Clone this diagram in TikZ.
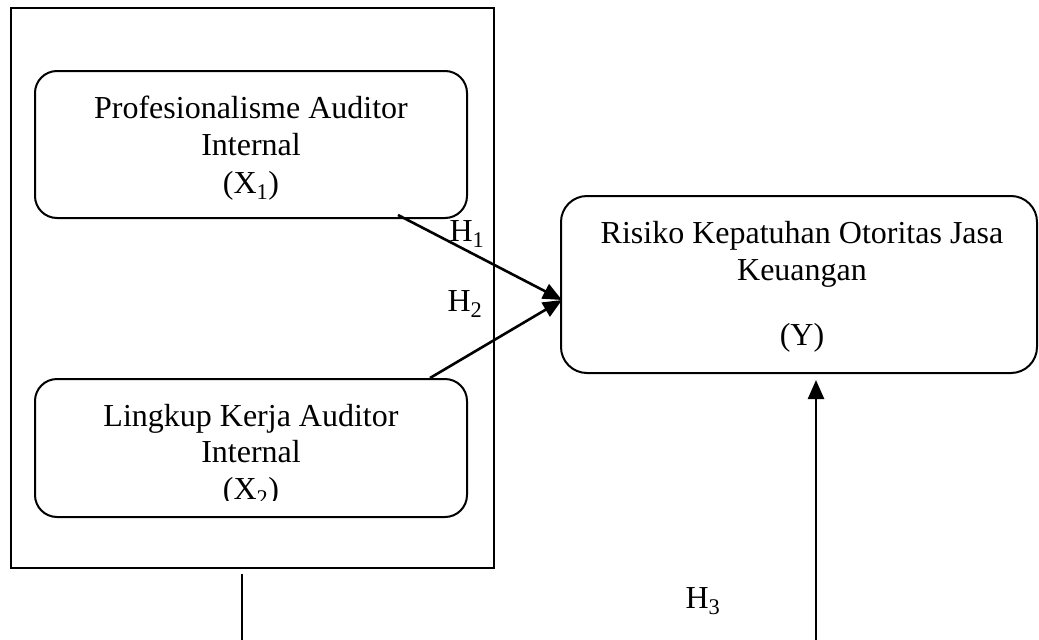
\documentclass[tikz,border=0pt]{standalone}
\usepackage{fontspec}
\setmainfont{Liberation Serif}
\usetikzlibrary{arrows.meta}
\begin{document}
\begin{tikzpicture}[x=1pt,y=-1pt,
  rbox/.style={draw,line width=2pt,rounded corners=22pt,inner sep=0pt},
  txt/.style={anchor=base,inner sep=0pt,font=\fontsize{32}{37}\selectfont},
  conn/.style={line width=2.6pt,-{Triangle[length=19pt,width=16pt]}},
  plain/.style={line width=2.4pt}]
\useasboundingbox (0,0) rectangle (1039,640);
% outer frame
\node[draw,line width=1.6pt,inner sep=0pt,minimum width=483pt,minimum height=560pt] (frame) at (252.5,288) {};
% boxes
\node[rbox,minimum width=432pt,minimum height=147pt] (x1) at (251,144.5) {};
\node[rbox,minimum width=432pt,minimum height=138pt] (x2) at (251,448) {};
\node[rbox,rounded corners=26pt,minimum width=476pt,minimum height=177pt] (y) at (799,284.5) {};
% texts X1
\node[txt] (x1a) at (251,118) {Profesionalisme Auditor};
\node[txt] (x1b) at (251,155) {Internal};
\node[txt] (x1c) at (251,193) {(X\textsubscript{1})};
% texts X2
\node[txt] (x2a) at (251,426) {Lingkup Kerja Auditor};
\node[txt] (x2b) at (251,462) {Internal};
\begin{scope}
  \clip (100,460) rectangle (400,500);
  \node[txt] (x2c) at (251,499) {(X\textsubscript{2})};
\end{scope}
% texts Y
\node[txt] (ya) at (802,243) {Risiko Kepatuhan Otoritas Jasa};
\node[txt] (yb) at (802,280) {Keuangan};
\node[txt] (yc) at (802,345) {(Y)};
% labels
\node[txt] (h1) at (467,241) {H\textsubscript{1}};
\node[txt] (h2) at (465,311) {H\textsubscript{2}};
\node[txt] (h3) at (703,608) {H\textsubscript{3}};
% connector points
\coordinate (h1s) at (398,215);
\coordinate (h2s) at (430,378);
\coordinate (ytip) at (562,300);
\coordinate (ybot) at (816,380);
\coordinate (rstart) at (816,640);
\coordinate (ltop) at (242,574);
\coordinate (lbot) at (242,640);
\draw[conn] (h1s) -- (ytip);
\draw[conn] (h2s) -- (ytip);
\draw[conn] (rstart) -- (ybot);
\draw[plain] (ltop) -- (lbot);
\end{tikzpicture}
\end{document}
